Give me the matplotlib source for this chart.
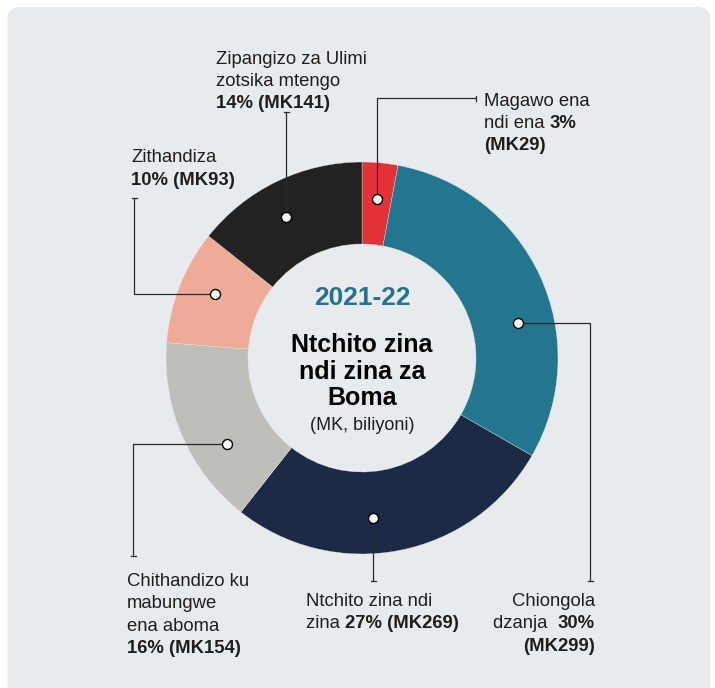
import matplotlib.pyplot as plt
from matplotlib.patches import FancyBboxPatch
import numpy as np

# data (MK billions), clockwise from the top
labels = ["Magawo ena ndi ena", "Chiongola dzanja", "Ntchito zina ndi zina",
          "Chithandizo ku mabungwe ena aboma", "Zithandiza",
          "Zipangizo za Ulimi zotsika mtengo"]
values = [29, 299, 269, 154, 93, 141]
percents = ["3%", "30%", "27%", "16%", "10%", "14%"]
amounts = ["(MK29)", "(MK299)", "(MK269)", "(MK154)", "(MK93)", "(MK141)"]
colors = ["#e03237", "#24758e", "#1c2b45", "#c0bebb", "#efab97", "#222220"]

year = "2021-22"
center_title = ["Ntchito zina", "ndi zina za", "Boma"]
center_sub = "(MK, biliyoni)"

BG = "#e8ebee"
INK = "#1e1e1e"
LINE = "#2a2a2a"
FONT = "Liberation Sans"
BODY = 13.3

plt.rcParams["font.family"] = [FONT, "DejaVu Sans"]

fig = plt.figure(figsize=(7.15, 6.88), dpi=100)
ax = fig.add_axes([0, 0, 1, 1])
ax.axis("off")

panel = FancyBboxPatch((7.5, 7), 703, 700, boxstyle="round,pad=0,rounding_size=13",
                       fc=BG, ec="none", zorder=0)
ax.add_patch(panel)

cx, cy, R = 362, 358, 196
wedges, _ = ax.pie(values, colors=colors, startangle=-90, counterclock=True,
                   center=(cx, cy), radius=R,
                   wedgeprops=dict(width=82, edgecolor=BG, linewidth=0.25))
for w in wedges:
    w.set_zorder(1)
ax.set_xlim(0, 715)
ax.set_ylim(688, 0)
ax.set_aspect("equal")

# where each leader starts inside its wedge (fraction of the wedge sweep) and its path
dot_frac = [0.5, 0.61, 0.57, 0.34, 0.56, 0.45]
dot_r = 160
paths = [
    [("v", 98), ("h", 476)],
    [("h", 590), ("v", 581)],
    [("v", 581)],
    [("h", 133), ("v", 556)],
    [("h", 134), ("v", 198)],
    [("v", 112)],
]

for w, f, path in zip(wedges, dot_frac, paths):
    th = np.radians(w.theta1 + f * (w.theta2 - w.theta1))
    x0, y0 = cx + dot_r * np.cos(th), cy + dot_r * np.sin(th)
    xs, ys = [x0], [y0]
    for kind, val in path:
        if kind == "v":
            xs.append(xs[-1]); ys.append(val)
        else:
            xs.append(val); ys.append(ys[-1])
    ax.plot(xs, ys, color=LINE, lw=0.9, zorder=3, solid_capstyle="butt")
    # little end tick, perpendicular to the last segment
    if path[-1][0] == "v":
        ax.plot([xs[-1] - 2.5, xs[-1] + 2.5], [ys[-1], ys[-1]], color=LINE, lw=0.9, zorder=3)
    else:
        ax.plot([xs[-1], xs[-1]], [ys[-1] - 2.5, ys[-1] + 2.5], color=LINE, lw=0.9, zorder=3)
    ax.plot(x0, y0, "o", ms=7.2, mfc="white", mec="black", mew=1.0, zorder=4)


def rich_line(x, y, parts, ha="left", size=BODY):
    """draw one line made of (text, bold) parts, baseline at y"""
    if ha == "right":
        parts = parts[::-1]
    prev = None
    for txt, bold in parts:
        kw = dict(fontsize=size, fontweight="bold" if bold else "normal",
                  color=INK, ha=ha, zorder=5)
        if prev is None:
            prev = ax.text(x, y, txt, va="baseline", **kw)
        else:
            xy = (1, 0) if ha == "left" else (0, 0)
            prev = ax.annotate(txt, xy=xy, xycoords=prev, va="bottom", **kw)


# Zipangizo
rich_line(216, 64, [("Zipangizo za Ulimi", False)])
rich_line(216, 86, [("zotsika mtengo", False)])
rich_line(216, 108, [(percents[5] + " " + amounts[5], True)])
# Magawo
rich_line(484, 106, [("Magawo ena", False)])
rich_line(484, 128, [("ndi ena ", False), (percents[0], True)])
rich_line(484, 150, [(amounts[0], True)])
# Zithandiza
rich_line(131, 162, [("Zithandiza", False)])
rich_line(131, 185, [(percents[4] + " " + amounts[4], True)])
# Chithandizo
rich_line(127, 586, [("Chithandizo ku", False)])
rich_line(127, 608, [("mabungwe", False)])
rich_line(127, 631, [("ena aboma", False)])
rich_line(127, 653, [(percents[3] + " " + amounts[3], True)])
# Ntchito
rich_line(306, 606, [("Ntchito zina ndi", False)])
rich_line(306, 628, [("zina ", False), (percents[2] + " " + amounts[2], True)])
# Chiongola
rich_line(595, 606, [("Chiongola", False)], ha="right")
rich_line(595, 628, [("dzanja  ", False), (percents[1], True)], ha="right")
rich_line(595, 651, [(amounts[1], True)], ha="right")

# centre
ax.text(cx, 305, year, ha="center", va="baseline", fontsize=19,
        fontweight="bold", color="#237390", zorder=5)
for t, yb in zip(center_title, [352, 379, 405]):
    ax.text(cx, yb, t, ha="center", va="baseline", fontsize=18,
            fontweight="bold", color="black", zorder=5)
ax.text(cx, 430, center_sub, ha="center", va="baseline", fontsize=13,
        color=INK, zorder=5)

fig.savefig("out.png", dpi=100, facecolor="white")
